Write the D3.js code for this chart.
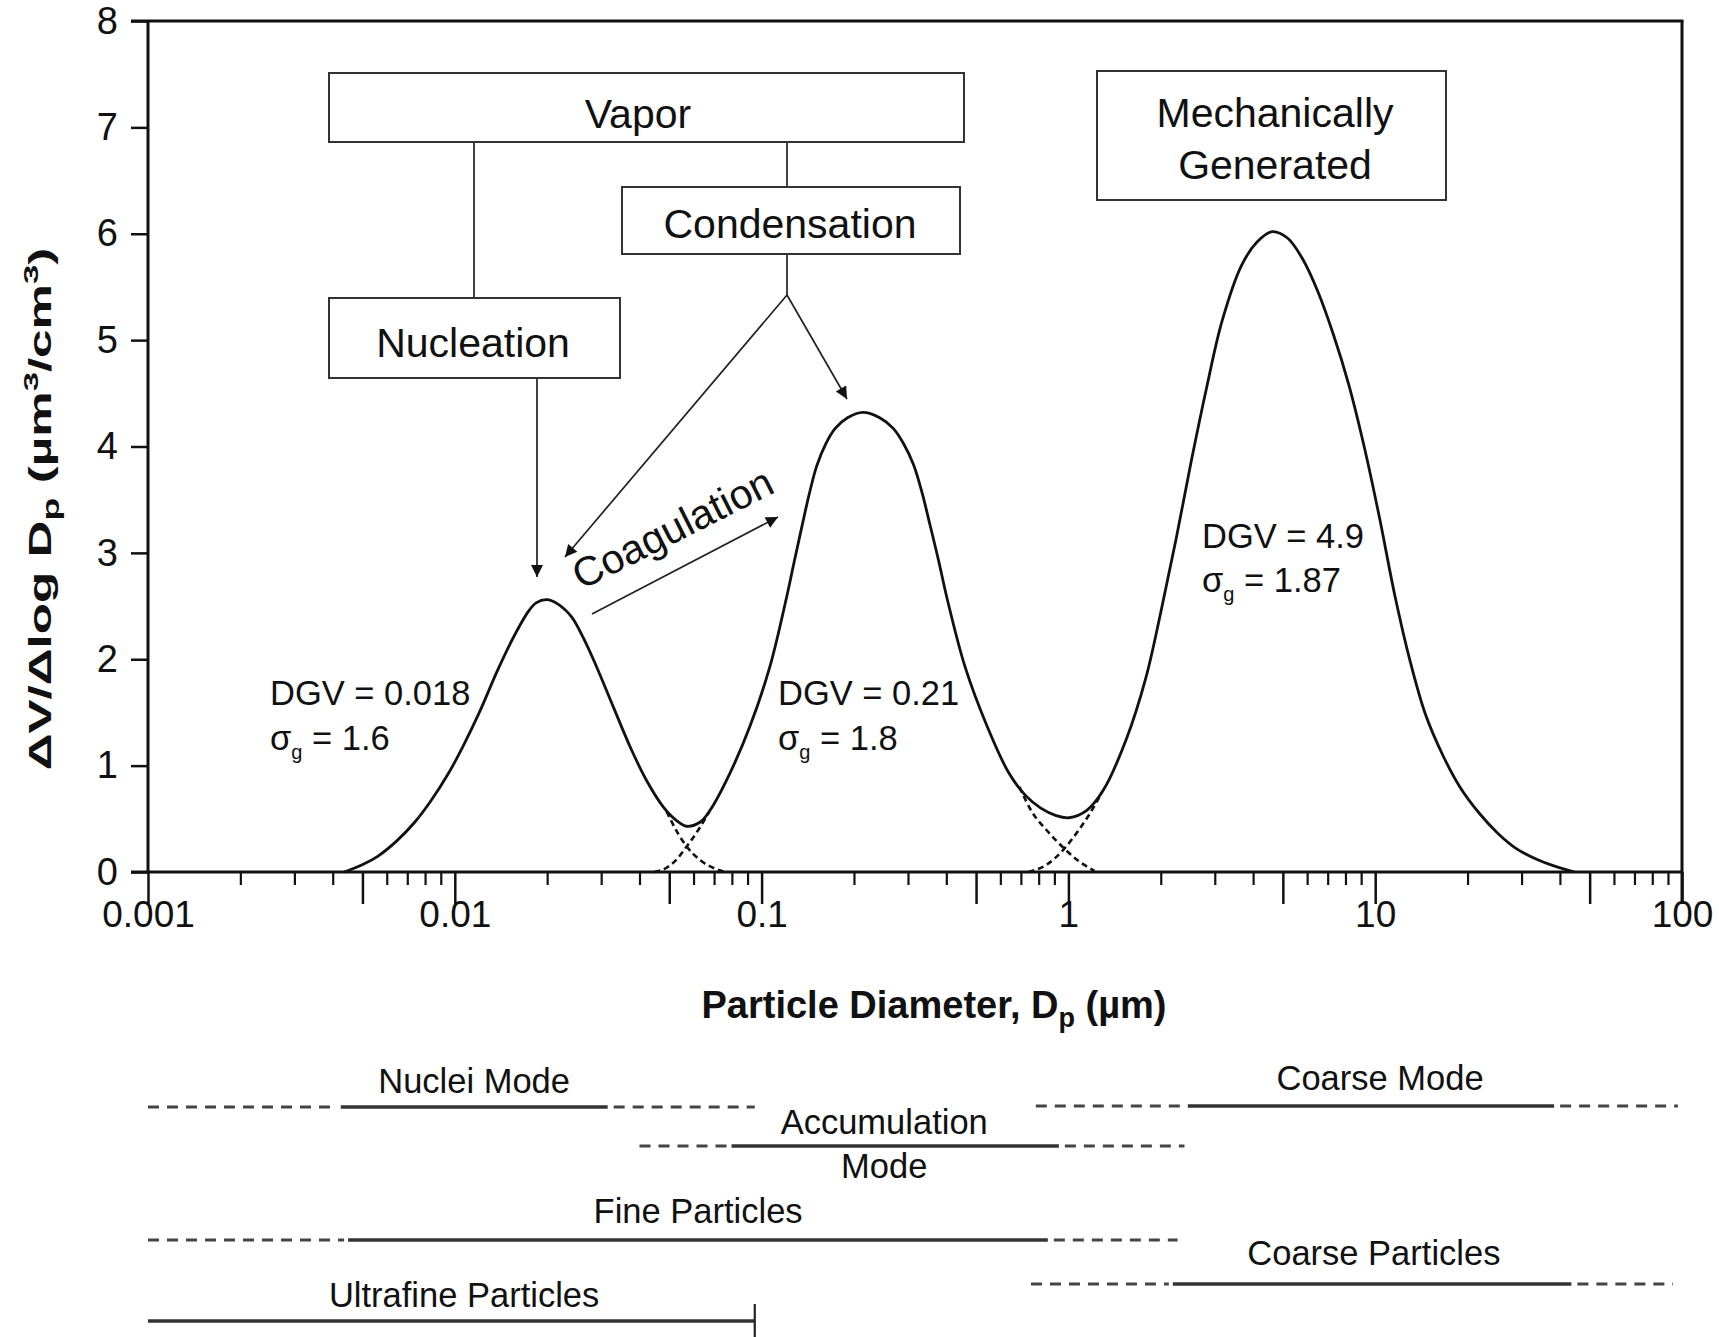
<!DOCTYPE html>
<html><head><meta charset="utf-8">
<script src="https://cdn.jsdelivr.net/npm/d3@7"></script>
<style>
body{margin:0;background:#fff;}
svg{display:block;}
text{font-family:"Liberation Sans",Arial,Helvetica,sans-serif;fill:#111;}
</style>
</head><body>
<svg id="c" width="1719" height="1337"></svg>
<script>
// ---------- DATA ----------
// total volume distribution (solid curve)
const curveDiameter = [
  0.004365,0.005012,0.005623,0.006457,0.007413,0.008318,0.009550,0.010715,0.012023,0.013804,0.015488,0.017378,0.018408,0.019953,
  0.021627,0.023988,0.026242,0.028973,0.032885,0.037239,0.042170,0.047863,0.052481,0.057016,
  0.063096,0.067920,0.078886,0.091622,0.10641,0.12078,0.12735,0.13490,0.14289,0.15136,0.16218,0.17378,0.19055,0.21380,
  0.24266,0.26853,0.28973,0.31261,0.33305,0.35481,0.37801,0.40087,0.46026,0.54325,0.63973,0.72444,0.81283,0.91201,1.0046,
  1.1482,1.3002,1.5453,1.7865,1.9999,2.2439,2.5177,2.8249,3.1696,3.6644,4.1115,4.6132,5.1761,5.8076,6.5163,7.3114,8.2035,9.2045,10.328,11.588,
  13.002,14.588,16.596,18.880,21.878,25.177,28.840,33.574,38.019,44.668];
const curveVolume = [
  0,0.07,0.15,0.29,0.47,0.66,0.93,1.20,1.50,1.90,2.20,2.45,2.53,2.56,
  2.52,2.40,2.20,1.93,1.55,1.18,0.86,0.61,0.49,0.43,
  0.47,0.58,0.93,1.37,1.93,2.59,2.90,3.23,3.55,3.82,4.03,4.17,4.27,4.32,
  4.27,4.17,4.03,3.83,3.57,3.25,2.92,2.59,1.93,1.37,0.93,0.72,0.60,0.53,0.51,
  0.58,0.77,1.25,1.82,2.44,3.13,3.87,4.56,5.18,5.70,5.92,6.02,5.96,5.76,5.45,5.05,4.58,4.00,3.33,2.60,
  1.98,1.48,1.10,0.80,0.55,0.36,0.22,0.12,0.06,0];

// individual-mode tails (dashed) near the two minima
const nucleiTailD = [0.0490,0.0537,0.0570,0.0631,0.0708,0.0759];
const nucleiTailV = [0.57,0.35,0.24,0.11,0.03,0];
const accumLeftTailD = [0.0447,0.0490,0.0525,0.0570,0.0617,0.0676];
const accumLeftTailV = [0,0.04,0.11,0.24,0.38,0.57];
const accumRightTailD = [0.692,0.759,0.851,0.970,1.072,1.216];
const accumRightTailV = [0.80,0.57,0.39,0.22,0.11,0.01];
const coarseTailD = [0.741,0.851,0.970,1.072,1.175,1.288];
const coarseTailV = [0,0.07,0.22,0.38,0.55,0.75];

const yTickValues = [0,1,2,3,4,5,6,7,8];
const xDecadeTicks = [0.001,0.01,0.1,1,10,100];
const xDecadeLabels = ["0.001","0.01","0.1","1","10","100"];
const xHalfTicks = [0.005,0.05,0.5,5,50];

// modes annotation
const modeDGV = ["0.018","0.21","4.9"];
const modeSigma = ["1.6","1.8","1.87"];

// size-range bars beneath the chart
const rangeLabels   = ["Nuclei Mode","Accumulation|Mode","Coarse Mode","Fine Particles","Coarse Particles","Ultrafine Particles"];
const rangeDashFrom = [0.001,0.040,0.783,0.001,0.755,null];
const rangeSolidFrom= [0.00425,0.0798,2.45,0.00449,2.19,0.001];
const rangeSolidTo  = [0.0315,0.931,38.3,0.857,43.6,0.095];
const rangeDashTo   = [0.095,2.39,97,2.27,93.5,null];
const rangeLabelAt  = [0.01156,0.251,10.37,0.0621,9.9,0.01072];

// ---------- LAYOUT ----------
const svg = d3.select("#c");
const L = 148, R = 1682, T = 21, B = 872;
const x = d3.scaleLog().domain([0.001,100]).range([L,R]);
const y = d3.scaleLinear().domain([0,8]).range([B,T]);

const defs = svg.append("defs");
defs.append("marker").attr("id","ah").attr("viewBox","0 0 10 10")
  .attr("refX",10).attr("refY",5).attr("markerUnits","userSpaceOnUse")
  .attr("markerWidth",15).attr("markerHeight",12).attr("orient","auto")
  .append("path").attr("d","M0,0 L10,5 L0,10 z").attr("fill","#111");

// axes
const fontTick = 37;
const yAxis = d3.axisLeft(y).tickValues(yTickValues).tickSize(17).tickPadding(13).tickFormat(d3.format("d"));
const gy = svg.append("g").attr("transform",`translate(${L},0)`).call(yAxis);
gy.select(".domain").remove();
gy.selectAll("line").attr("stroke","#111").attr("stroke-width",2.5);
gy.selectAll("text").attr("font-size",38).attr("font-family","Liberation Sans, Arial, sans-serif").attr("fill","#111");

const xMajor = d3.axisBottom(x).tickValues(xDecadeTicks).tickSize(32).tickPadding(-3)
  .tickFormat((d,i)=>xDecadeLabels[i]);
const gx = svg.append("g").attr("transform",`translate(0,${B})`).call(xMajor);
gx.select(".domain").remove();
gx.selectAll("line").attr("stroke","#111").attr("stroke-width",2.5);
gx.selectAll("text").attr("font-size",fontTick).attr("font-family","Liberation Sans, Arial, sans-serif").attr("fill","#111");

const gx5 = svg.append("g").attr("transform",`translate(0,${B})`)
  .call(d3.axisBottom(x).tickValues(xHalfTicks).tickSize(32).tickFormat(""));
gx5.select(".domain").remove();
gx5.selectAll("line").attr("stroke","#111").attr("stroke-width",2.5);

const minorTicks = x.ticks().filter(d => !xDecadeTicks.includes(d) && !xHalfTicks.some(h=>Math.abs(h-d)/h<1e-6));
const gxm = svg.append("g").attr("transform",`translate(0,${B})`)
  .call(d3.axisBottom(x).tickValues(minorTicks).tickSize(13).tickFormat(""));
gxm.select(".domain").remove();
gxm.selectAll("line").attr("stroke","#111").attr("stroke-width",2.2);

// frame
svg.append("line").attr("x1",L-17).attr("x2",R).attr("y1",B).attr("y2",B).attr("stroke","#111").attr("stroke-width",3);
svg.append("line").attr("x1",L).attr("x2",L).attr("y1",T).attr("y2",B).attr("stroke","#111").attr("stroke-width",3);
svg.append("line").attr("x1",L-17).attr("x2",R+1.5).attr("y1",T).attr("y2",T).attr("stroke","#111").attr("stroke-width",3);
svg.append("line").attr("x1",R).attr("x2",R).attr("y1",T).attr("y2",B+32).attr("stroke","#111").attr("stroke-width",3);

// axis titles
const yt = svg.append("g").attr("transform","translate(51,509) rotate(-90) scale(1.65,1)")
  .append("text").attr("text-anchor","middle").attr("font-weight","bold").attr("font-size",31);
yt.append("tspan").text("ΔV/Δlog D");
yt.append("tspan").text("p").attr("font-size",23).attr("dy",8);
yt.append("tspan").text(" (µm").attr("dy",-8);
yt.append("tspan").text("3").attr("font-size",21).attr("dy",-13);
yt.append("tspan").text("/cm").attr("dy",13);
yt.append("tspan").text("3").attr("font-size",21).attr("dy",-13);
yt.append("tspan").text(")").attr("dy",13);

const xt = svg.append("text").attr("x",934).attr("y",1018).attr("text-anchor","middle")
  .attr("font-weight","bold").attr("font-size",38);
xt.append("tspan").text("Particle Diameter, D");
xt.append("tspan").text("p").attr("font-size",27).attr("dy",9);
xt.append("tspan").text(" (µm)").attr("dy",-9);

// curves
const line = d3.line().x(d=>x(d[0])).y(d=>y(d[1])).curve(d3.curveCatmullRom.alpha(0.5));
const dashLine = d3.line().x(d=>x(d[0])).y(d=>y(d[1])).curve(d3.curveMonotoneX);
[[nucleiTailD,nucleiTailV],[accumLeftTailD,accumLeftTailV],[accumRightTailD,accumRightTailV],[coarseTailD,coarseTailV]]
 .forEach(([dd,vv])=>{
  svg.append("path").attr("d",dashLine(d3.zip(dd,vv))).attr("fill","none")
    .attr("stroke","#111").attr("stroke-width",2.6).attr("stroke-dasharray","6,4");
});
svg.append("path").attr("d",line(d3.zip(curveDiameter,curveVolume))).attr("fill","none")
  .attr("stroke","#111").attr("stroke-width",2.8).attr("stroke-linejoin","round");

// annotation boxes
const boxFont = 41;
function box(x0,y0,x1,y1){
  svg.append("rect").attr("x",x0).attr("y",y0).attr("width",x1-x0).attr("height",y1-y0)
    .attr("fill","#fff").attr("stroke","#333").attr("stroke-width",2);
}
function label(t,cx,by,size,anchor){
  return svg.append("text").attr("x",cx).attr("y",by).attr("text-anchor",anchor||"middle").attr("font-size",size).text(t);
}
function seg(x1,y1,x2,y2,arrow){
  const l = svg.append("line").attr("x1",x1).attr("y1",y1).attr("x2",x2).attr("y2",y2)
    .attr("stroke","#222").attr("stroke-width",1.7);
  if(arrow) l.attr("marker-end","url(#ah)");
}
// connectors
seg(474,142,474,298);
seg(787,142,787,187);
seg(787,254,787,295);
seg(787,295,565,557,true);
seg(787,295,847,399,true);
seg(537,378,537,577,true);
seg(592,614,778,517,true);

box(329,73,964,142); label("Vapor",638,128,boxFont);
box(622,187,960,254); label("Condensation",790,238,boxFont);
box(329,298,620,378); label("Nucleation",473,357,boxFont);
box(1097,71,1446,200); label("Mechanically",1275,127,boxFont); label("Generated",1275,179,boxFont);

svg.append("text").attr("transform","translate(679,541) rotate(-26.8)").attr("text-anchor","middle")
  .attr("font-size",41).text("Coagulation");

// DGV annotations
const annFont = 34.5;
const annPos = [[270,705,750],[778,705,750],[1202,548,592]];
annPos.forEach((p,i)=>{
  label(`DGV = ${modeDGV[i]}`,p[0],p[1],annFont,"start");
  const t = svg.append("text").attr("x",p[0]).attr("y",p[2]).attr("font-size",annFont);
  t.append("tspan").text("σ");
  t.append("tspan").text("g").attr("font-size",20).attr("dy",9);
  t.append("tspan").text(` = ${modeSigma[i]}`).attr("dy",-9);
});

// size-range bars
const rowLineY  = [1107,1146,1106,1240,1284,1321];
const rowLabelY = [1093,1134,1090,1223,1265,1307];
const rangeFont = 34.5;
rangeLabels.forEach((lab,i)=>{
  const ly = rowLineY[i];
  if(rangeDashFrom[i]!==null){
    svg.append("line").attr("x1",x(rangeDashFrom[i])).attr("x2",x(rangeSolidFrom[i])-4)
      .attr("y1",ly).attr("y2",ly).attr("stroke","#444").attr("stroke-width",3.2).attr("stroke-dasharray","11,8");
  }
  if(rangeDashTo[i]!==null){
    svg.append("line").attr("x1",x(rangeSolidTo[i])+6).attr("x2",x(rangeDashTo[i]))
      .attr("y1",ly).attr("y2",ly).attr("stroke","#444").attr("stroke-width",3.2).attr("stroke-dasharray","11,8");
  }
  svg.append("line").attr("x1",x(rangeSolidFrom[i])).attr("x2",x(rangeSolidTo[i]))
    .attr("y1",ly).attr("y2",ly).attr("stroke","#333").attr("stroke-width",3.6);
  const parts = lab.split("|");
  label(parts[0],x(rangeLabelAt[i]),rowLabelY[i],rangeFont);
  if(parts.length>1) label(parts[1],x(rangeLabelAt[i]),rowLabelY[i]+44,rangeFont);
});
// end tick of ultrafine bar
svg.append("line").attr("x1",x(rangeSolidTo[5])).attr("x2",x(rangeSolidTo[5]))
  .attr("y1",1304).attr("y2",1337).attr("stroke","#222").attr("stroke-width",2.2);
</script>
</body></html>
